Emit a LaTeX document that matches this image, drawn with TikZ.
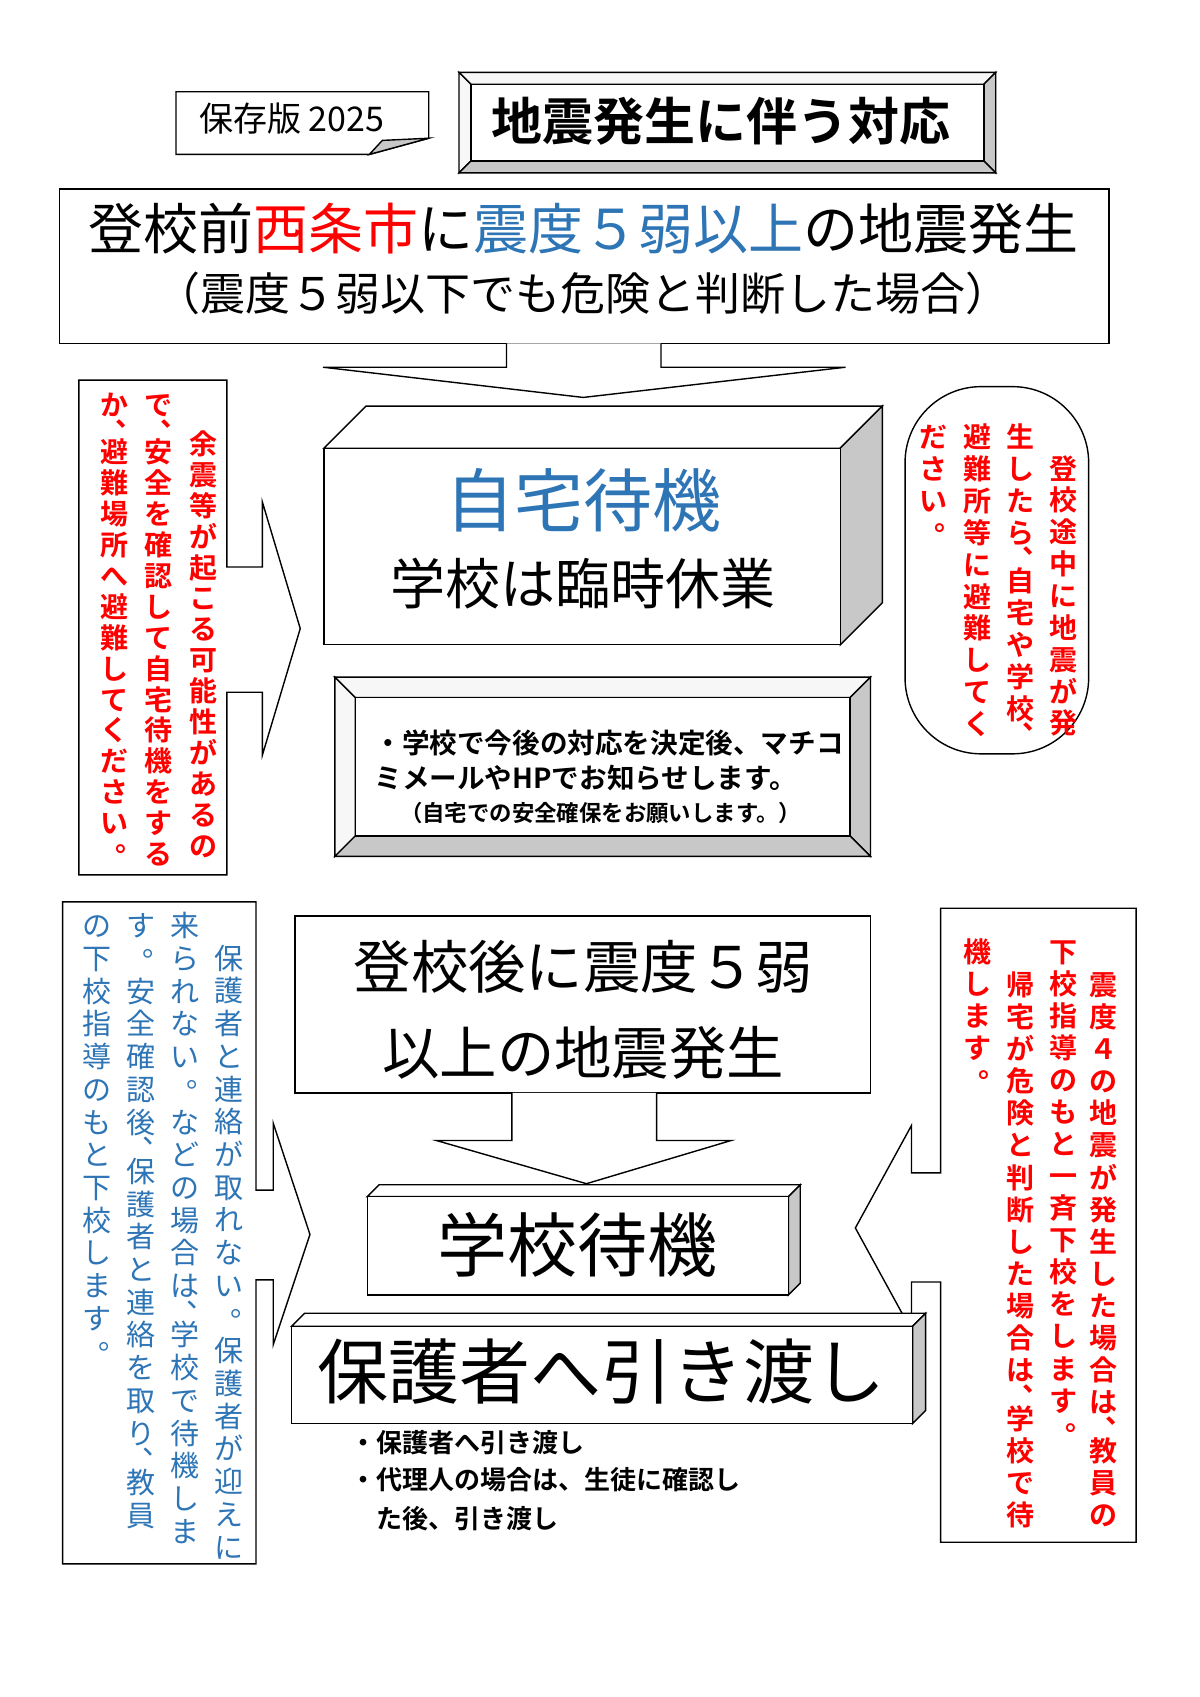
\documentclass[tikz,border=0pt]{standalone}
\usepackage{fontspec}
\setmainfont{Noto Sans CJK JP}[BoldFont={Noto Sans CJK JP Bold}]
\definecolor{jred}{HTML}{FF0000}
\definecolor{jblue}{HTML}{2E75B6}
\definecolor{face}{HTML}{C8C8C8}

% vertical text: one cell per character
\newlength\vpitch
\newcommand\vcell[1]{%
  \ifx#1、\hbox to 1em{\vrule height .44\vpitch depth .06\vpitch width 0pt\kern.55em\raise.28em\hbox{#1}\hss}%
  \else\ifx#1。\hbox to 1em{\vrule height .88\vpitch depth .12\vpitch width 0pt\kern.55em\raise.45em\hbox{#1}\hss}%
  \else\hbox to 1em{\hss\vrule height .88\vpitch depth .12\vpitch width 0pt#1\hss}\fi\fi}
\def\vloop#1{\ifx#1\relax\else\vcell{#1}\expandafter\vloop\fi}
\newcommand\vcol[1]{\vbox{\offinterlineskip\vloop#1\relax}}
\newcommand\fs[1]{\fontsize{#1}{#1}\selectfont}

% bevelled frame and box with depth
\newcommand\bevel[5]{%
  \draw[fill=gray!6] (#1,#2) -- (#3,#2) -- ({#3-#5},{#2+#5}) -- ({#1+#5},{#2+#5}) -- cycle;
  \draw[fill=gray!6] (#1,#2) -- ({#1+#5},{#2+#5}) -- ({#1+#5},{#4-#5}) -- (#1,#4) -- cycle;
  \draw[fill=face] (#3,#2) -- (#3,#4) -- ({#3-#5},{#4-#5}) -- ({#3-#5},{#2+#5}) -- cycle;
  \draw[fill=face] (#1,#4) -- (#3,#4) -- ({#3-#5},{#4-#5}) -- ({#1+#5},{#4-#5}) -- cycle;
  \draw[fill=white] ({#1+#5},{#2+#5}) rectangle ({#3-#5},{#4-#5});}
\newcommand\cube[5]{%
  \draw[fill=white] (#1,#2) -- ({#1+#5},{#2-#5}) -- ({#3+#5},{#2-#5}) -- (#3,#2) -- cycle;
  \draw[fill=face] (#3,#2) -- ({#3+#5},{#2-#5}) -- ({#3+#5},{#4-#5}) -- (#3,#4) -- cycle;
  \draw[fill=white] (#1,#2) rectangle (#3,#4);}

\tikzset{
  line/.style={draw=black, line width=0.7pt},
  vred/.style={anchor=north, inner sep=0pt, text=jred, font=\fs{14}\bfseries},
  vblue/.style={anchor=north, inner sep=0pt, text=jblue, font=\fs{14.5}},
}

\begin{document}
\begin{tikzpicture}[x=0.54pt, y=-0.54pt, line width=0.7pt]
    \useasboundingbox[fill=white] (0,0) rectangle (1111,1571.3);

    % header
    \draw[fill=white] (163,85) -- (397,85) -- (397,128) -- (342,143) -- (163,143) -- cycle;
    \draw[fill=face] (342,143) -- (354,130) -- (397,128) -- cycle;
    \node (keep) at (270,110) {\fs{17}保存版 2025};
    \bevel{425}{67}{922}{160}{11}
    \node (title) at (668,112) {\fs{25.5}\bfseries 地震発生に伴う対応};

    % top case
    \draw[fill=white] (55,175) rectangle (1027,318);
    \node (case1) at (540,212) {\fs{27.5}登校前\textcolor{jred}{西条市}に\textcolor{jblue}{震度５弱以上}の地震発生};
    \node (case1b) at (540,272) {\fs{22.5}（震度５弱以下でも危険と判断した場合）};
    \draw[fill=white] (469,318) -- (469,340) -- (299,340) -- (540,368) -- (783,340) -- (612,340) -- (612,318);

    % stay home
    \cube{300}{415}{778}{597}{39}
    \node[text=jblue] (home) at (540,463) {\fs{34.5}自宅待機};
    \node (closed) at (540,540) {\fs{27.5}学校は臨時休業};
    \bevel{310}{627}{806}{793}{19}
    \node[anchor=west] (info1) at (340,688) {\fs{13.8}\bfseries ・学校で今後の対応を決定後、マチコ};
    \node[anchor=west] (info2) at (340,720) {\fs{13.8}\bfseries ミメールやHPでお知らせします。};
    \node (info3) at (556,753) {\fs{11.2}\bfseries （自宅での安全確保をお願いします。）};

    % side notes, top
    \draw[fill=white] (73,352) -- (210,352) -- (210,525) -- (243,525) -- (243,465) -- (278,582)
      -- (243,699) -- (243,641) -- (210,641) -- (210,810) -- (73,810) -- cycle;
    \setlength\vpitch{28.6\dimexpr0.54pt\relax}
    \node[vred] (aft1) at (188,395) {\vcol{余震等が起こる可能性があるの}};
    \node[vred] (aft2) at (147,359) {\vcol{で、安全を確認して自宅待機をする}};
    \node[vred] (aft3) at (106,359) {\vcol{か、避難場所へ避難してください。}};
    \draw[rounded corners=38pt] (838,358) rectangle (1008,698);
    \setlength\vpitch{29.5\dimexpr0.54pt\relax}
    \node[vred] (way1) at (985,417) {\vcol{登校途中に地震が発}};
    \node[vred] (way2) at (945,388) {\vcol{生したら、自宅や学校、}};
    \node[vred] (way3) at (905,388) {\vcol{避難所等に避難してく}};
    \node[vred] (way4) at (864,388) {\vcol{ださい。}};

    % at school
    \draw[fill=white] (273,848) rectangle (806,1012);
    \node (case2) at (540,895) {\fs{28.7}登校後に震度５弱};
    \node (case2b) at (540,975) {\fs{28.7}以上の地震発生};
    \draw[fill=white] (474,1012) -- (474,1056) -- (404,1056) -- (543,1096) -- (677,1056) -- (608,1056) -- (608,1012);

    % side notes, bottom
    \draw[fill=white] (58,835) -- (237,835) -- (237,1102) -- (253,1102) -- (253,1040) -- (287,1143)
      -- (253,1245) -- (253,1185) -- (237,1185) -- (237,1448) -- (58,1448) -- cycle;
    \setlength\vpitch{30.3\dimexpr0.54pt\relax}
    \node[vblue] (par1) at (212,870) {\vcol{保護者と連絡が取れない。保護者が迎えに}};
    \node[vblue] (par2) at (171,840) {\vcol{来られない。などの場合は、学校で待機しま}};
    \node[vblue] (par3) at (131,840) {\vcol{す。安全確認後、保護者と連絡を取り、教員}};
    \node[vblue] (par4) at (90,840) {\vcol{の下校指導のもと下校します。}};
    \draw[fill=white] (1052,841) -- (871,841) -- (871,1086) -- (844,1086) -- (844,1042) -- (792,1137)
      -- (844,1232) -- (844,1187) -- (871,1187) -- (871,1428) -- (1052,1428) -- cycle;
    \setlength\vpitch{29.7\dimexpr0.54pt\relax}
    \node[vred] (sh1) at (1022,895) {\vcol{震度４の地震が発生した場合は、教員の}};
    \node[vred] (sh2) at (985,864) {\vcol{下校指導のもと一斉下校をします。}};
    \node[vred] (sh3) at (945,895) {\vcol{帰宅が危険と判断した場合は、学校で待}};
    \node[vred] (sh4) at (905,864) {\vcol{機します。}};

    % wait and hand over
    \cube{340}{1108}{730}{1199}{11}
    \node (wait) at (535,1153) {\fs{35}学校待機};
    \cube{270}{1228}{845}{1318}{12}
    \node (hand) at (557,1270) {\fs{35.5}保護者へ引き渡し};
    \node[anchor=west] (hb1) at (318,1336) {\fs{13}\bfseries ・保護者へ引き渡し};
    \node[anchor=west] (hb2) at (318,1370) {\fs{13}\bfseries ・代理人の場合は、生徒に確認し};
    \node[anchor=west] (hb3) at (342,1406) {\fs{13}\bfseries た後、引き渡し};
\end{tikzpicture}
\end{document}
